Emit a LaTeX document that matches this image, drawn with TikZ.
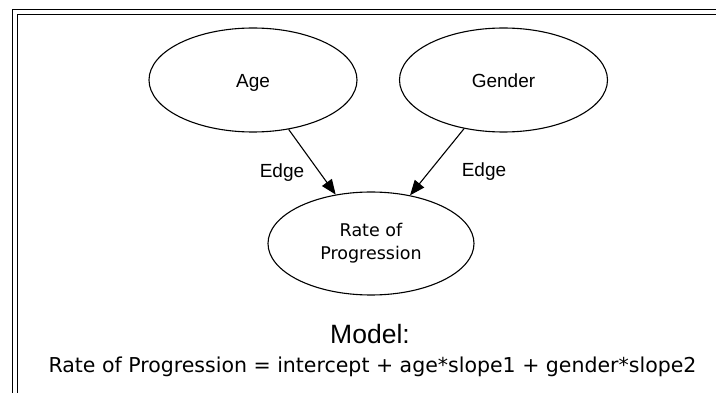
\documentclass[tikz,border=0pt]{standalone}
\usepackage{fontspec}
\newfontfamily\hvfont{Liberation Sans}
\newfontfamily\vdfont{DejaVu Sans}
\usetikzlibrary{shapes.geometric,arrows.meta}
\begin{document}
\begin{tikzpicture}[x=1pt,y=-1pt,
  frameline/.style={line width=1.3pt,black},
  varnode/.style={ellipse,draw,line width=1.1pt,inner sep=0pt,
    minimum width=208pt,minimum height=104pt,
    font=\hvfont\fontsize{19}{22}\selectfont,text height=15pt,text depth=0pt},
  ratenode/.style={ellipse,draw,line width=1.1pt,inner sep=0pt,
    minimum width=206pt,minimum height=103pt,align=center,
    font=\vdfont\fontsize{17.5}{23}\selectfont},
  edgelbl/.style={font=\hvfont\fontsize{19}{22}\selectfont,inner sep=0pt},
  link/.style={line width=1.1pt,-{Triangle[length=15pt,width=12pt]}}
]
\useasboundingbox (0,0) rectangle (716,393);
\fill[white] (0,0) rectangle (716,393);
% double frame
\draw[frameline] (12.7,393) -- (12.7,9.5) -- (716,9.5);
\draw[frameline] (17.3,393) -- (17.3,14.7) -- (716,14.7);
% nodes
\node[varnode] (age) at (253,80) {Age};
\node[varnode] (gender) at (503.5,80) {Gender};
\node[ratenode] (rate) at (371,243.5) {Rate of\\Progression};
% edges
\draw[link] (age) -- (rate);
\draw[link] (gender) -- (rate);
\node[edgelbl] (lblA) at (282,173) {Edge};
\node[edgelbl] (lblG) at (484,172) {Edge};
% model text
\node[font=\hvfont\fontsize{26.5}{30}\selectfont,anchor=base] (model) at (370,343) {Model:};
\node[font=\vdfont\fontsize{20.5}{24}\selectfont,anchor=base] (eqn) at (372.5,373) {Rate of Progression = intercept + age*slope1 + gender*slope2};
\end{tikzpicture}
\end{document}
